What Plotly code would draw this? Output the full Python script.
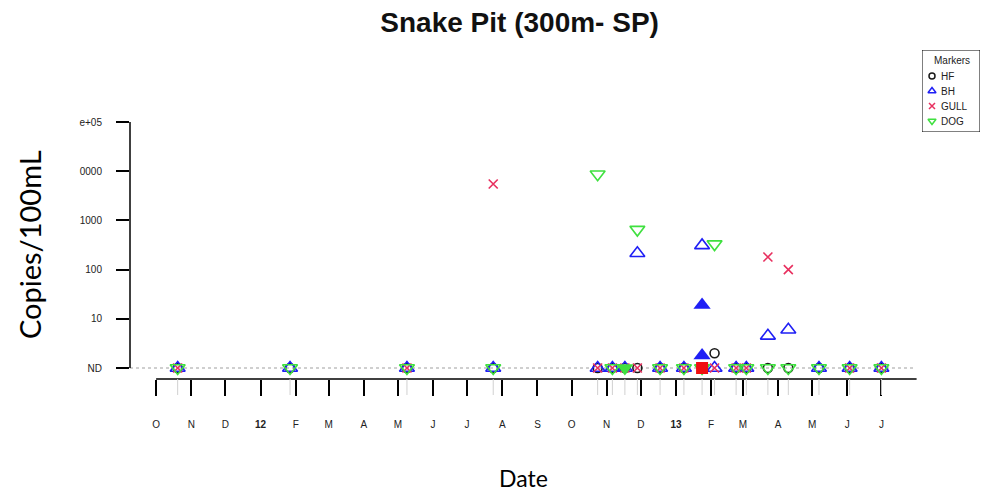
import plotly.graph_objects as go

# Sampling dates (Snake Pit, 300 m)
dates = ["2011-10-20", "2012-01-27", "2012-05-09", "2012-07-24", "2012-10-24",
         "2012-11-06", "2012-11-17", "2012-11-28", "2012-12-18", "2013-01-08",
         "2013-01-24", "2013-02-04", "2013-02-23", "2013-03-04", "2013-03-23",
         "2013-04-10", "2013-05-07", "2013-06-03", "2013-07-01"]

# Copies/100mL per marker (1 = ND, None = not plotted)
hf = [1, 1, 1, 1, 1, 1, 1, 1, 1, 1, 1, 2.0, 1, 1, 1, 1, 1, 1, 1]
bh = [1, 1, 1, 1, 1, 1, 1, 215, 1, 1, 310, 1, 1, 1, 4.5, 6, 1, 1, 1]
gull = [1, None, 1, 5500, 1, 1, 1, 1, 1, 1, None, 1, 1, 1, 180, 100, None, 1, 1]
dog = [1, 1, 1, 1, 8700, 1, None, 650, 1, 1, 1, 330, 1, 1, 1, 1, 1, 1, 1]

# Detected-not-quantified results (filled symbols)
bh_dnq_dates = ["2013-01-24", "2013-01-24"]
bh_dnq = [19, 1.8]
gull_dnq_dates = ["2013-01-24"]
gull_dnq = [1]
dog_dnq_dates = ["2012-11-17"]
dog_dnq = [1]

# Axis ticks
month_ticks = ["2011-10-01", "2011-11-01", "2011-12-01", "2012-01-01", "2012-02-01",
               "2012-03-01", "2012-04-01", "2012-05-01", "2012-06-01", "2012-07-01",
               "2012-08-01", "2012-09-01", "2012-10-01", "2012-11-01", "2012-12-01",
               "2013-01-01", "2013-02-01", "2013-03-01", "2013-04-01", "2013-05-01",
               "2013-06-01", "2013-07-01"]
month_labels = ["O", "N", "D", "<b>12</b>", "F", "M", "A", "M", "J", "J", "A", "S",
                "O", "N", "D", "<b>13</b>", "F", "M", "A", "M", "J", "J"]
y_ticks = [1, 10, 100, 1000, 10000, 100000]
y_labels = ["ND", "10", "100", "1000", "0000", "e+05"]

BLACK = "#1a1a1a"
BLUE = "#1f1ff5"
RED = "#e8305f"
GREEN = "#3fe03f"
FONT = "Liberation Sans, Arial, sans-serif"

series = [
    ("HF", hf, "circle-open", BLACK, 9),
    ("BH", bh, "triangle-up-open", BLUE, 13),
    ("GULL", gull, "x-thin-open", RED, 9),
    ("DOG", dog, "triangle-down-open", GREEN, 13),
]

fig = go.Figure()

for name, vals, sym, col, size in series:
    fig.add_trace(go.Scatter(
        x=dates, y=vals, mode="markers", name=name, showlegend=False,
        marker=dict(symbol=sym, size=size, color=col, line=dict(color=col, width=1.6)),
    ))

# filled symbols
fig.add_trace(go.Scatter(x=bh_dnq_dates, y=bh_dnq, mode="markers", showlegend=False,
                         marker=dict(symbol="triangle-up", size=15, color=BLUE)))
fig.add_trace(go.Scatter(x=gull_dnq_dates, y=gull_dnq, mode="markers", showlegend=False,
                         marker=dict(symbol="square", size=12, color="#f01010")))
fig.add_trace(go.Scatter(x=dog_dnq_dates, y=dog_dnq, mode="markers", showlegend=False,
                         marker=dict(symbol="triangle-down", size=15, color=GREEN)))

# key box drawn on its own small axes (units: pixels from the box's top-left corner)
key_rows = [26, 41, 56, 71]
legend_ann = [dict(text="Markers", xref="x2", yref="y2", x=30, y=10, showarrow=False,
                   xanchor="center", yanchor="middle", font=dict(size=10, family=FONT, color="#222"))]
for (name, vals, sym, col, size), ry in zip(series, key_rows):
    fig.add_trace(go.Scatter(
        x=[10], y=[ry], xaxis="x2", yaxis="y2", mode="markers", showlegend=False,
        hoverinfo="skip",
        marker=dict(symbol=sym, size=7 if "triangle" in sym else 6, color=col,
                    line=dict(color=col, width=1.5)),
    ))
    legend_ann.append(dict(text=name, xref="x2", yref="y2", x=17, y=ry, showarrow=False,
                           xanchor="left", yanchor="middle",
                           font=dict(size=10, family=FONT, color="#222")))

shapes = []
# ND reference line
shapes.append(dict(type="line", xref="x domain", yref="y", x0=0, x1=0.9937, y0=1, y1=1,
                   line=dict(color="#a0a0a0", width=1.2, dash="dot"), layer="below"))
# y axis line (ND to 1e+05)
shapes.append(dict(type="line", xref="x domain", yref="y", x0=0, x1=0, y0=1, y1=100000,
                   line=dict(color="black", width=1.5)))
# x axis line
shapes.append(dict(type="line", xref="x", yref="y domain", x0="2011-10-01", x1="2013-08-01",
                   y0=0, y1=0, line=dict(color="black", width=1.5)))
# faint sample-date ticks
for d in dates:
    shapes.append(dict(type="line", xref="x", yref="y domain", x0=d, x1=d, y0=0, y1=-0.0595,
                       line=dict(color="#d0d0d0", width=1)))
# key border
shapes.append(dict(type="rect", xref="x2", yref="y2", x0=0, x1=58, y0=0, y1=82,
                   line=dict(color="black", width=1)))

fig.update_layout(
    width=986, height=491,
    margin=dict(l=130, r=6, t=50, b=112),
    paper_bgcolor="white", plot_bgcolor="white",
    font=dict(family=FONT, color="black"),
    showlegend=False,
    title=dict(text="<b>Snake Pit (300m- SP)</b>", x=0.527, y=0.955, xref="container",
               yref="container", xanchor="center", yanchor="middle",
               font=dict(size=28, family=FONT, color="#111")),
    xaxis=dict(type="date", domain=[0, 0.929412], range=["2011-09-08", "2013-08-04"],
               showgrid=False, zeroline=False, showline=False, tickmode="array",
               tickvals=month_ticks, ticktext=month_labels, ticks="outside", ticklen=16,
               tickwidth=1.5, tickcolor="black", tickfont=dict(size=10, color="#222"),
               ticklabelstandoff=20),
    yaxis=dict(type="log", domain=[0, 0.817629], range=[-0.2236, 5.2439], showgrid=False,
               zeroline=False, showline=False, tickmode="array", tickvals=y_ticks,
               ticktext=y_labels, ticks="outside", ticklen=13, tickwidth=1.5,
               tickcolor="black", tickfont=dict(size=10, color="#222"), ticklabelstandoff=12),
    xaxis2=dict(domain=[0.931765, 1], range=[0, 58], anchor="y2", visible=False,
                fixedrange=True),
    yaxis2=dict(domain=[0.750760, 1], range=[82, 0], anchor="x2", visible=False,
                fixedrange=True),
    shapes=shapes,
    annotations=[
        dict(text="Copies/100mL", xref="paper", yref="paper", x=-0.1176, y=0.4073,
             textangle=-90, showarrow=False, xanchor="center", yanchor="middle",
             font=dict(size=29, family="Lato, sans-serif", color="black")),
        dict(text="Date", xref="paper", yref="paper", x=0.4635, y=-0.3009,
             showarrow=False, xanchor="center", yanchor="middle",
             font=dict(size=23, family="Lato, sans-serif", color="black")),
    ] + legend_ann,
)

fig.write_html("out.html")
